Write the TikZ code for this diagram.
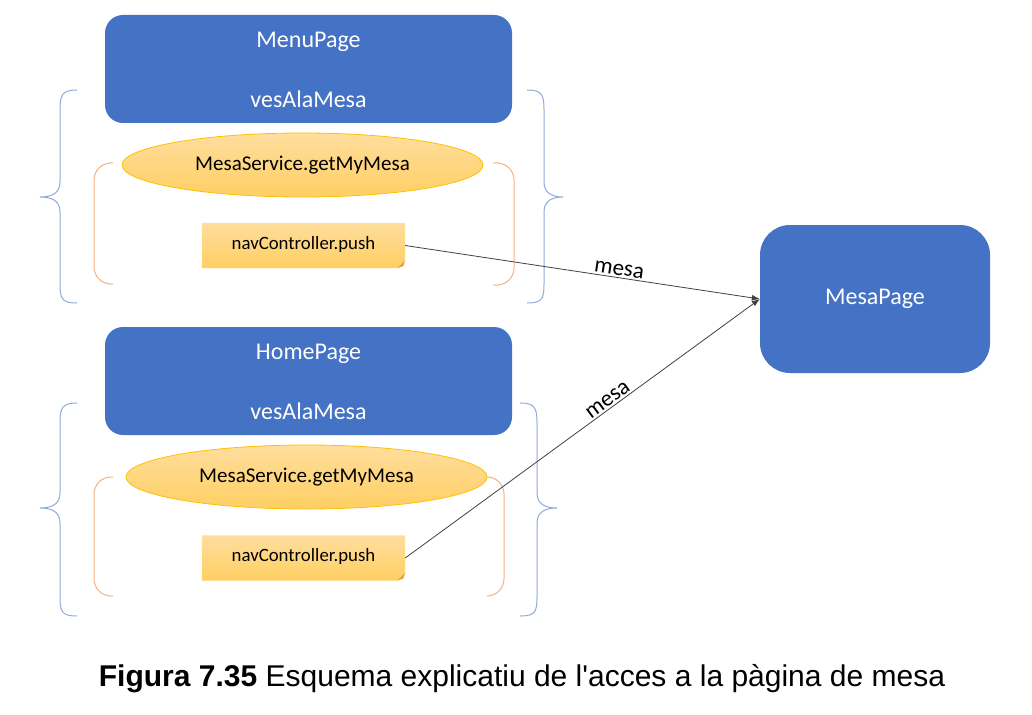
\documentclass[tikz,border=0pt]{standalone}
\usepackage{fontspec}
\setmainfont{Carlito}
\newfontfamily\capfont{Liberation Sans}
\usetikzlibrary{shapes.geometric,arrows.meta}
\definecolor{pblue}{HTML}{4472C4}
\definecolor{bracecol}{HTML}{8FAADC}
\definecolor{orangecol}{HTML}{F4B183}
\definecolor{ytop}{HTML}{FFDE9E}
\definecolor{ybot}{HTML}{FFCF62}
\definecolor{yborder}{HTML}{FFC000}
\definecolor{yfold}{HTML}{E0A838}
\tikzset{
  pagebox/.style={fill=pblue, draw=none, rounded corners=18pt, inner sep=0pt},
  pagetext/.style={text=white, font=\fontsize{24}{28}\selectfont, inner sep=0pt},
  svcell/.style={ellipse, top color=ytop, bottom color=ybot, draw=yborder, line width=0.8pt,
    minimum width=361pt, minimum height=64pt, inner sep=0pt, font=\fontsize{21}{25}\selectfont},
  notebox/.style={minimum width=203pt, minimum height=45pt, inner sep=0pt,
    font=\fontsize{18.8}{22}\selectfont},
  bracel/.style={draw=bracecol, line width=1pt},
  bracko/.style={draw=orangecol, line width=1pt, rounded corners=17pt},
  conn/.style={draw=black!75, line width=0.8pt, -{Latex[length=8pt,width=6pt]}},
  lbl/.style={font=\fontsize{23}{27}\selectfont, inner sep=2pt}
}
\newcommand{\notedraw}[1]{%
  \path[top color=ytop, bottom color=ybot]
    (#1.north west) -- (#1.north east) -- ([yshift=8pt]#1.south east)
    -- ([xshift=-8pt]#1.south east) -- (#1.south west) -- cycle;
  \fill[yfold] ([yshift=8pt]#1.south east) -- ([xshift=-8pt]#1.south east)
    -- ([xshift=-2pt,yshift=2pt]#1.south east) -- cycle;
}
\begin{document}
\begin{tikzpicture}[x=1pt,y=-1pt]
\useasboundingbox (0,0) rectangle (1032,714);

% ---------- top group ----------
\node[pagebox, minimum width=407pt, minimum height=108pt] (menu) at (308.5,69) {};
\node[pagetext] (menut) at (308.5,42) {MenuPage};
\node[pagetext] (menuv) at (308.5,99) {vesAlaMesa};

\draw[bracel] (77,90) .. controls (62,90) and (60,95) .. (60,110) -- (60,182)
  .. controls (60,193) and (52,197) .. (40,197)
  .. controls (52,197) and (60,201) .. (60,212) -- (60,284)
  .. controls (60,299) and (62,303) .. (77,303);
\draw[bracel] (527,90) .. controls (542,90) and (544,95) .. (544,110) -- (544,182)
  .. controls (544,193) and (552,197) .. (563,197)
  .. controls (552,197) and (544,201) .. (544,212) -- (544,284)
  .. controls (544,299) and (542,303) .. (527,303);

\draw[bracko] (113,163) -- (94,163) -- (94,284) -- (113,284);
\draw[bracko] (493,163) -- (514,163) -- (514,285) -- (493,285);

\node[svcell] (svc1) at (302.5,165) {MesaService.getMyMesa};
\node[notebox] (nav1) at (303.5,245.5) {};
\notedraw{nav1}
\node[notebox] (nav1t) at (303.5,244) {navController.push};

% ---------- bottom group ----------
\node[pagebox, minimum width=407pt, minimum height=108pt] (home) at (308.5,381) {};
\node[pagetext] (homet) at (308.5,354) {HomePage};
\node[pagetext] (homev) at (308.5,411) {vesAlaMesa};

\draw[bracel] (77,403) .. controls (62,403) and (60,408) .. (60,423) -- (60,493)
  .. controls (60,504) and (52,508) .. (40,508)
  .. controls (52,508) and (60,512) .. (60,523) -- (60,597)
  .. controls (60,612) and (62,616) .. (77,616);
\draw[bracel] (520,403) .. controls (535,403) and (537,408) .. (537,423) -- (537,493)
  .. controls (537,504) and (545,508) .. (557,508)
  .. controls (545,508) and (537,512) .. (537,523) -- (537,597)
  .. controls (537,612) and (535,616) .. (520,616);

\draw[bracko] (113,477) -- (94,477) -- (94,596) -- (113,596);
\draw[bracko] (487,477) -- (504,477) -- (504,596) -- (487,596);

\node[svcell] (svc2) at (306.5,477) {MesaService.getMyMesa};
\node[notebox] (nav2) at (303.5,558) {};
\notedraw{nav2}
\node[notebox] (nav2t) at (303.5,556.5) {navController.push};

% ---------- target ----------
\node[pagebox, rounded corners=30pt, minimum width=230pt, minimum height=148pt] (mesa) at (875,299) {};
\node[pagetext] (mesat) at (875,299) {MesaPage};

\draw[conn] (nav1.east) -- node[lbl, sloped, above, pos=0.6] {mesa} (mesa.west);
\draw[conn] (nav2.east) -- node[lbl, sloped, above, pos=0.585] {mesa} (mesa.west);

% ---------- caption ----------
\node[font=\capfont\fontsize{30}{34}\selectfont, anchor=base, inner sep=0pt] (cap) at (522,686)
  {\textbf{Figura 7.35} Esquema explicatiu de l'acces a la pàgina de mesa};
\end{tikzpicture}
\end{document}
